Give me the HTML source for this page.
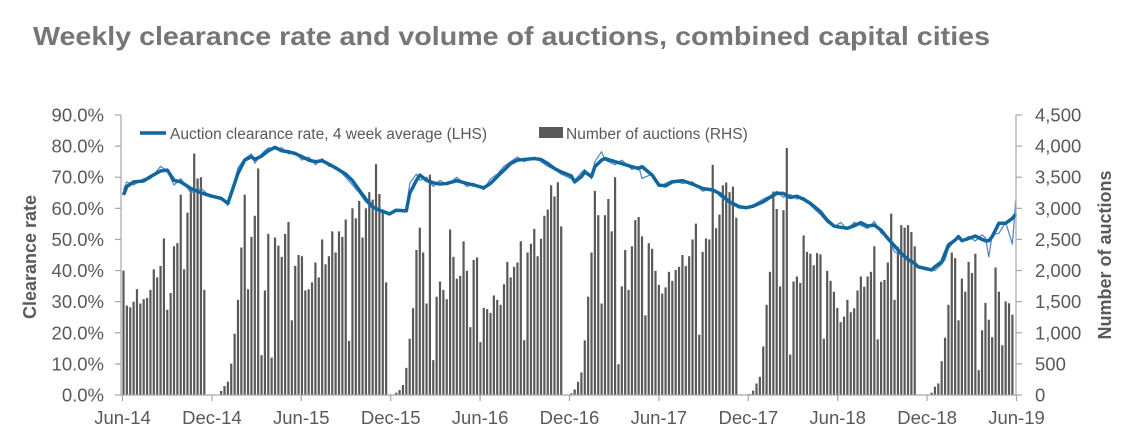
<!DOCTYPE html>
<html><head><meta charset="utf-8"><style>
html,body{margin:0;padding:0;background:#fff;}
svg{display:block;font-family:"Liberation Sans",Arial,sans-serif;}
</style></head><body>
<svg id="chart" width="1132" height="436" viewBox="0 0 1132 436">
<text x="33" y="45" font-size="26" font-weight="bold" fill="#767676" textLength="957" lengthAdjust="spacingAndGlyphs">Weekly clearance rate and volume of auctions, combined capital cities</text>
<g id="bars"></g>
<g id="lines"></g>
<g id="axes"></g>
<g>
<line x1="140" y1="133" x2="166" y2="133" stroke="#11669c" stroke-width="3.5"/>
<text x="170" y="139" font-size="15.5" fill="#595959">Auction clearance rate, 4 week average (LHS)</text>
<rect x="539" y="127" width="24" height="11" fill="#595959"/>
<text x="566" y="139" font-size="15.5" fill="#595959">Number of auctions (RHS)</text>
</g>
<text transform="translate(36,257) rotate(-90)" text-anchor="middle" font-size="18" font-weight="bold" fill="#595959">Clearance rate</text>
<text transform="translate(1111,255) rotate(-90)" text-anchor="middle" font-size="18" font-weight="bold" fill="#595959">Number of auctions</text>
</svg>
<script>
const auctions = [
2000,1436,1410,1500,1700,1470,1540,1560,1690,2020,1890,2075,2516,1370,1640,2390,2440,3220,2020,2930,3300,3880,3480,3500,1690,
0,0,0,0,
64,144,213,505,984,1530,2370,3220,1700,2540,2880,3640,640,1680,2590,600,2530,2400,2220,2590,2780,1200,2075,2250,2230,1680,1700,1810,2130,1890,2500,2100,2230,2630,2290,2630,2540,2820,
870,3000,2840,3120,2530,3000,3260,3140,3710,3230,2980,1810,
0,0,
37,80,160,436,904,1394,2330,2690,2290,1470,3540,560,1580,1825,1690,1540,2660,2220,1870,1915,2470,1995,1090,2170,2210,850,1400,1380,1320,1600,1530,1450,1780,2140,1890,2060,2130,2470,880,2290,2430,2670,2230,2510,2880,2980,3370,3190,3420,2710,
0,0,
27,90,213,362,878,1580,2290,3280,2890,1470,2890,3150,2630,3500,495,1745,2330,1690,2390,2810,2860,2550,1280,2440,2350,1995,1770,1630,1730,1980,1835,2010,2060,2250,2075,2230,2500,2755,970,2300,2516,2500,3700,2680,2900,3370,3415,3260,3350,2850,
0,0,0,
16,70,186,293,780,1450,1980,3270,2990,1745,2970,3970,650,
1825,1905,1800,2565,2300,2270,2085,2280,2260,905,1995,1835,1660,1400,1170,1260,1530,1330,1394,1680,1905,1740,1905,1980,2390,895,1820,1850,2130,2915,1530,2380,2730,2690,2730,2620,2390,
0,0,0,0,
37,133,186,543,920,1450,2290,2200,1200,1870,1660,2140,1960,2270,400,1040,1480,1210,930,2050,1660,800,1505,1475,1290
];
const rateWeeks = [0,1,3,6,8,11,13,15,17,20,23,26,29,31,34,36,38,39,41,43,45,47,49,51,53,55,57,59,61,63,66,68,70,72,74,76,79,81,84,85,87,88,90,92,94,96,99,102,104,107,109,111,113,115,117,119,122,124,126,128,130,133,134,136,137,139,140,142,143,146,148,151,153,154,157,159,161,163,166,169,172,175,177,180,183,185,187,190,192,194,196,198,200,202,204,207,209,211,213,215,217,219,221,223,225,227,229,231,233,235,236,238,240,241,243,244,245,247,248,249,251,253,255,256,257,258,260,262,264,265];
const rateAvg = [64.3,67,68.5,68.8,70.2,72,72.3,69,68.5,66.4,65,64,63.2,61.6,71.2,75.5,76.6,75.7,76.8,78.5,79.6,78.5,78.2,77.6,76.6,75.5,75,75.3,74.2,73,71,68.9,65.9,62.9,60.5,59.4,58.2,59.4,59.2,64.8,69,70.7,69,68.2,67.8,68,68.9,68,67.5,66.6,68,70.2,72.3,74.4,75.5,75.7,76,75.7,74.4,72.8,71.7,70.4,68.5,70.2,71.7,70.2,73.4,75.5,76,75,74.4,73.4,72.8,73.4,70.7,67.5,67.2,68.5,68.9,67.8,66.4,65.9,64.8,62.1,60.5,60.2,60.7,62.1,63.5,64.8,64.8,63.5,63.9,62.9,61.6,58.9,56.2,54.3,53.9,53.6,54.4,55.4,54.3,54.6,53,50.3,47.9,45.5,43.6,42.3,41.2,40.7,40.2,41.2,42.8,45.5,48.2,49.8,50.9,49.6,50.3,51.1,50,49.6,49.6,50.9,55.2,55.2,56.8,58.1];
const rateWeekly = [66,68.5,67.5,69.5,69.5,73.5,72,67.5,69.5,65,66.5,63.5,63.5,61,73,76,77.5,74.5,77.5,79.5,79,79.5,77.5,78,75.5,76.5,74,76,73.5,73.5,70,67.5,65,62,60,59,58.5,59.5,59.5,68,71,69,70,67,69,67.5,70,67,68,66,69.5,71,73.5,75,76.5,75,76.5,75,73.5,72.5,71,69.5,69,71.5,72.5,69.5,75,78.2,75.5,74,75.5,72.5,73.5,69.6,71,67,68,69,68,68.5,65.5,66.5,64,61.5,60,60.5,61,63,64,65.5,63.5,64.5,63,63.5,61,58,55.5,54,55.5,53.2,55.5,54.5,53.5,55.8,52,51,46,45,43,42,41.5,41,40.5,40,42,43.5,47,50,50.5,49.5,51,49.5,51.5,50.5,44.4,51.5,52,55.5,48.5,62.5,62];

const X0 = 123.5, XW = 3.367, Y0 = 395, H = 280;
function xW(i){ return X0 + i*XW; }
function yL(p){ return Y0 - p/90*H; }
function yR(n){ return Y0 - n/4500*H; }
const NS = "http://www.w3.org/2000/svg";

const barsG = document.getElementById('bars');
auctions.forEach(function(v,i){
  if (v <= 0) return;
  const r = document.createElementNS(NS,'rect');
  r.setAttribute('x', (xW(i)-1.1).toFixed(2));
  r.setAttribute('y', yR(v).toFixed(2));
  r.setAttribute('width', 2.2);
  r.setAttribute('height', (Y0 - yR(v)).toFixed(2));
  r.setAttribute('fill', '#595959');
  
  
  barsG.appendChild(r);
});

const linesG = document.getElementById('lines');
function makePath(vals, color, w, name){
  const d = rateWeeks.map(function(wk,k){ return (k?'L':'M') + xW(wk).toFixed(2) + ' ' + yL(vals[k]).toFixed(2); }).join(' ');
  const p = document.createElementNS(NS,'path');
  p.setAttribute('d', d);
  p.setAttribute('fill', 'none');
  p.setAttribute('stroke', color);
  p.setAttribute('stroke-width', w);
  p.setAttribute('stroke-linejoin', 'round');
  
  
  linesG.appendChild(p);
}
makePath(rateWeekly, '#4a83cc', 1.2, 'weekly-clearance-line');
makePath(rateAvg, '#11669c', 3.5, 'clearance-rate-4wk-line');

const leftTicks = [0,10,20,30,40,50,60,70,80,90];
const rightTicks = [0,500,1000,1500,2000,2500,3000,3500,4000,4500];
const xTickLabels = ['Jun-14','Dec-14','Jun-15','Dec-15','Jun-16','Dec-16','Jun-17','Dec-17','Jun-18','Dec-18','Jun-19'];
const axesG = document.getElementById('axes');
function line(x1,y1,x2,y2,name){
  const l = document.createElementNS(NS,'line');
  l.setAttribute('x1',x1); l.setAttribute('y1',y1); l.setAttribute('x2',x2); l.setAttribute('y2',y2);
  l.setAttribute('stroke','#a6a6a6'); l.setAttribute('stroke-width',1.2);
  
  
  axesG.appendChild(l);
}
function text(x,y,s,anchor,name){
  const t = document.createElementNS(NS,'text');
  t.setAttribute('x',x); t.setAttribute('y',y); t.setAttribute('text-anchor',anchor);
  t.setAttribute('font-size','18.5'); t.setAttribute('fill','#595959');
  t.textContent = s;
  
  
  axesG.appendChild(t);
}
line(121,115,121,395,'y-axis-left');
line(1016,115,1016,395,'y-axis-right');
line(121,395,1016,395,'x-axis');
leftTicks.forEach(function(p){
  line(115,yL(p),121,yL(p),'y-left-tick');
  text(104,yL(p)+6.5,p.toFixed(1)+'%','end','y-left-tick-label');
});
rightTicks.forEach(function(n){
  line(1016,yR(n),1022,yR(n),'y-right-tick');
  text(1035,yR(n)+6.5,n.toLocaleString('en-US'),'start','y-right-tick-label');
});
xTickLabels.forEach(function(s,k){
  const x = 122.5 + k*89.4;
  line(x,395,x,401,'x-tick');
  text(x,424,s,'middle','x-tick-label');
});
</script>
</body></html>
